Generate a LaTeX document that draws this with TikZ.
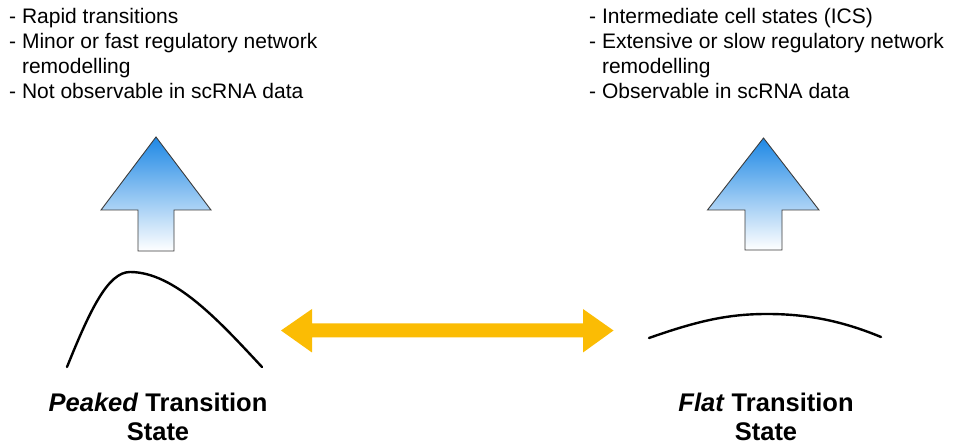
\documentclass[tikz,border=0pt]{standalone}
\usepackage{fontspec}
\setmainfont{Liberation Sans}
\definecolor{arrowblue}{RGB}{30,136,229}
\definecolor{gold}{RGB}{251,188,4}
\definecolor{edgegray}{RGB}{60,60,60}
\begin{document}
\begin{tikzpicture}[x=1pt,y=-1pt,
  bullet/.style={anchor=base west, inner sep=0pt, font=\fontsize{21}{25}\selectfont},
  statelabel/.style={anchor=base, inner sep=0pt, font=\bfseries\fontsize{25.5}{29}\selectfont},
  uparrow/.style={draw=edgegray, line width=0.9pt, top color=arrowblue, bottom color=white, line join=miter},
  curve/.style={line width=2.4pt, line cap=round},
  dblarrow/.style={fill=gold, draw=none}]
\useasboundingbox (0,0) rectangle (954,446);

% left text block
\node[bullet] (l1) at (9,23.5) {- Rapid transitions};
\node[bullet] (l2) at (9,48.5) {- Minor or fast regulatory network};
\node[bullet] (l3) at (9,73.5) {\hphantom{- }remodelling};
\node[bullet] (l4) at (9,98.5) {- Not observable in scRNA data};

% right text block
\node[bullet] (r1) at (589,23.5) {- Intermediate cell states (ICS)};
\node[bullet] (r2) at (589,48.5) {- Extensive or slow regulatory network};
\node[bullet] (r3) at (589,73.5) {\hphantom{- }remodelling};
\node[bullet] (r4) at (589,98.5) {- Observable in scRNA data};

% up arrows
\draw[uparrow] (156,137) -- (211,210) -- (174,210) -- (174,251) -- (138,251) -- (138,210) -- (101,210) -- cycle;
\draw[uparrow] (763.5,138) -- (819,210) -- (782,210) -- (782,250) -- (745,250) -- (745,210) -- (707.5,210) -- cycle;

% curves
\coordinate (pk0) at (67,367);
\coordinate (pkT) at (130,272);
\coordinate (pk1) at (262,367);
\draw[curve] (pk0) .. controls (90,310) and (108,272) .. (pkT) .. controls (175,272) and (220,322) .. (pk1);
\coordinate (fl0) at (649,338);
\coordinate (flT) at (767,314);
\coordinate (fl1) at (881,337);
\draw[curve] (fl0) .. controls (700,320) and (730,314) .. (flT) .. controls (805,314) and (840,320) .. (fl1);

% double arrow
\fill[dblarrow] (281,330.5) -- (312,309) -- (312,323.5) -- (583,323.5) -- (583,309) -- (613.5,330.5) -- (583,352.5) -- (583,337.5) -- (312,337.5) -- (312,352.5) -- cycle;

% labels
\node[statelabel] (p1) at (158,412) {\textit{Peaked} Transition};
\node[statelabel] (p2) at (158,441) {State};
\node[statelabel] (f1) at (766,412) {\textit{Flat} Transition};
\node[statelabel] (f2) at (766,441) {State};
\end{tikzpicture}
\end{document}
